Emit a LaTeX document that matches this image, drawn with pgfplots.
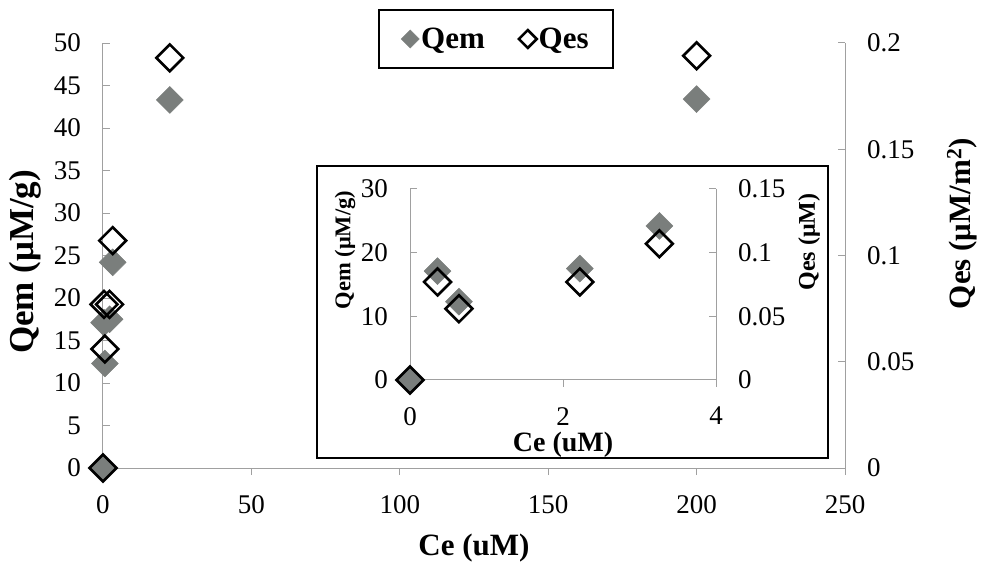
\documentclass[border=0pt]{standalone}
\usepackage{fontspec}
\setmainfont{Liberation Serif}
\usepackage{pgfplots}
\usepackage{pgfplotstable}
\pgfplotsset{compat=1.18}

\definecolor{qemgray}{RGB}{122,126,124}
\definecolor{axisgray}{RGB}{160,160,160}

% Ce (uM), Qem (uM/g), Qes (uM/m^2)
\pgfplotstableread{
Ce    Qem   Qes
0     0     0
0.36  17.1  0.077
0.64  12.3  0.056
2.22  17.5  0.077
3.26  24.2  0.107
22.5  43.3  0.193
200   43.4  0.194
}\datatable

\pgfplotsset{
  common/.style={
    scale only axis,
    clip=false,
    tick align=inside,
    major tick length=7pt,
    every tick/.style={draw=axisgray, line width=1pt},
    major x tick style={yshift=-7pt},
    axis line style={draw=axisgray, line width=1pt},
    tick label style={font=\fontsize{27}{30}\selectfont, inner sep=0pt},
    /pgf/number format/assume math mode=true,
    xticklabel shift=27pt,
    yticklabel shift=22pt,
  },
  qemmark/.style={only marks, mark=square*, mark size=9.5pt,
    mark options={rotate=45, fill=qemgray, draw=qemgray, line width=0.5pt}},
  qesmark/.style={only marks, mark=square, mark size=9.5pt,
    mark options={rotate=45, draw=black, line width=2.6pt}},
}

\begin{document}
\begin{tikzpicture}
% main plot, left axis
\begin{axis}[common,
  at={(0,0)}, anchor=south west,
  width=742pt, height=425pt,
  xmin=0, xmax=250, ymin=0, ymax=50,
  axis x line*=bottom, axis y line*=left,
  xtick={0,50,100,150,200,250},
  ytick={0,5,10,15,20,25,30,35,40,45,50},
  xlabel={Ce (uM)},
  ylabel={Qem (μM/g)},
  xlabel style={font=\bfseries\fontsize{31}{34}\selectfont,
    at={(axis description cs:0.5,-0.188)}, anchor=center},
  ylabel style={font=\bfseries\fontsize{35}{38}\selectfont,
    at={(axis description cs:-0.105,0.485)}, anchor=center},
]
\addplot[qemmark] table[x=Ce, y=Qem] {\datatable};
\end{axis}
% main plot, right axis
\begin{axis}[common,
  at={(0,0)}, anchor=south west,
  width=742pt, height=425pt,
  xmin=0, xmax=250, ymin=0, ymax=0.2,
  axis x line=none, axis y line*=right,
  ytick={0,0.05,0.1,0.15,0.2},
  yticklabels={0,0.05,0.1,0.15,0.2},
  ylabel={Qes (μM/m\textsuperscript{2})},
  ylabel style={font=\bfseries\fontsize{31}{34}\selectfont,
    at={(axis description cs:1.1577,0.575)}, anchor=center},
  legend columns=2,
  legend image post style={mark size=6.3pt},
  legend style={at={(axis description cs:0.5296,1.0094)}, anchor=center,
    draw=black, line width=1.8pt,
    font=\bfseries\fontsize{31}{34}\selectfont,
    inner xsep=22pt, inner ysep=16pt,
    /tikz/every even column/.append style={column sep=32pt}},
]
\addlegendimage{qemmark}
\addlegendentry{Qem}
\addplot[qesmark] table[x=Ce, y=Qes] {\datatable};
\addlegendentry{Qes}
\end{axis}

% inset frame
\draw[black, line width=2pt, fill=white] (214pt,10pt) rectangle (725pt,302pt);

% inset, left axis
\begin{axis}[common,
  at={(307pt,88pt)}, anchor=south west,
  width=306pt, height=191pt,
  xmin=0, xmax=4, ymin=0, ymax=30,
  axis x line*=bottom, axis y line*=left,
  xtick={0,2,4}, ytick={0,10,20,30},
  restrict x to domain=-1:5,
  xlabel={Ce (uM)},
  ylabel={Qem (μM/g)},
  xlabel style={font=\bfseries\fontsize{28}{30}\selectfont,
    at={(axis description cs:0.5,-0.34)}, anchor=center},
  ylabel style={font=\bfseries\fontsize{22.5}{25}\selectfont,
    at={(axis description cs:-0.2124,0.68)}, anchor=center},
]
\addplot[qemmark] table[x=Ce, y=Qem] {\datatable};
\end{axis}
% inset, right axis
\begin{axis}[common,
  at={(307pt,88pt)}, anchor=south west,
  width=306pt, height=191pt,
  xmin=0, xmax=4, ymin=0, ymax=0.15,
  axis x line=none, axis y line*=right,
  ytick={0,0.05,0.1,0.15},
  yticklabels={0,0.05,0.1,0.15},
  restrict x to domain=-1:5,
  ylabel={Qes (μM)},
  ylabel style={font=\bfseries\fontsize{24}{26}\selectfont,
    at={(axis description cs:1.304,0.7225)}, anchor=center},
]
\addplot[qesmark] table[x=Ce, y=Qes] {\datatable};
\end{axis}

\pgfresetboundingbox
\path[use as bounding box] (-103pt,-102pt) rectangle (882pt,468pt);
\end{tikzpicture}
\end{document}
